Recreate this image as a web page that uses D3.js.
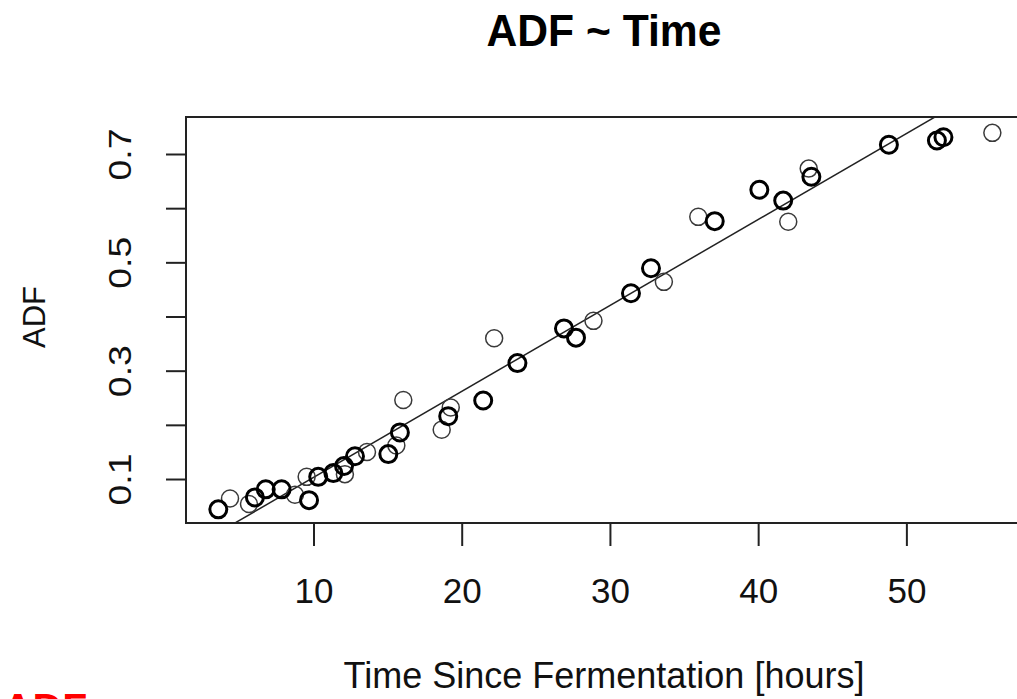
<!DOCTYPE html>
<html>
<head>
<meta charset="utf-8">
<script src="https://cdn.jsdelivr.net/npm/d3@7"></script>
<style>
  html, body { margin: 0; padding: 0; background: #fff; overflow: hidden; }
  text { font-family: 'Liberation Sans', Arial, Helvetica, sans-serif; }
</style>
</head>
<body>
<svg id="chart"></svg>
<script>
const width = 1017;
const height = 699;

// hours since fermentation / ADF
// heavy circles (overplotted) and light circles kept apart
const heavyTime = [3.58, 6.05, 6.78, 7.85, 9.70, 10.32, 11.34, 12.06, 12.80, 15.05, 15.83, 19.09, 21.45,
  23.76, 26.90, 27.71, 31.42, 32.77, 37.07, 40.08, 41.69, 43.59, 48.82, 52.06, 52.50];
const heavyADF = [0.044, 0.066, 0.081, 0.081, 0.061, 0.104, 0.111, 0.124, 0.142, 0.146, 0.186, 0.216, 0.245,
  0.314, 0.378, 0.361, 0.443, 0.489, 0.576, 0.634, 0.614, 0.658, 0.717, 0.725, 0.731];

const lightTime = [4.37, 5.65, 8.75, 9.54, 12.12, 13.61, 15.59, 16.06, 18.65, 19.26, 22.19, 28.89,
  33.64, 35.96, 42.03, 43.41, 55.80];
const lightADF = [0.064, 0.054, 0.071, 0.104, 0.109, 0.150, 0.162, 0.246, 0.191, 0.232, 0.360, 0.392,
  0.464, 0.584, 0.575, 0.673, 0.739];

// lm(ADF ~ Time)
const fitIntercept = -0.0558;
const fitSlope = 0.01587;

const xTicks = [10, 20, 30, 40, 50];
const yTicks = [0.1, 0.2, 0.3, 0.4, 0.5, 0.6, 0.7];
const yTickLabels = ['0.1', '', '0.3', '', '0.5', '', '0.7'];

const plot = { left: 186, right: 1022, top: 117, bottom: 523 };

const svg = d3.select('#chart')
  .attr('width', width)
  .attr('height', height);

svg.append('rect')
  .attr('width', width)
  .attr('height', height)
  .attr('fill', '#fff');

const x = d3.scaleLinear().domain([1.40, 57.80]).range([plot.left, plot.right]);
const y = d3.scaleLinear().domain([0.0188, 0.7683]).range([plot.bottom, plot.top]);

svg.append('defs').append('clipPath')
  .attr('id', 'plotClip')
  .append('rect')
  .attr('x', plot.left)
  .attr('y', plot.top)
  .attr('width', plot.right - plot.left)
  .attr('height', plot.bottom - plot.top);

// fitted line (abline, clipped to the box)
const x0 = x.domain()[0];
const x1 = x.domain()[1];
svg.append('line')
  .attr('clip-path', 'url(#plotClip)')
  .attr('x1', x(x0))
  .attr('y1', y(fitIntercept + fitSlope * x0))
  .attr('x2', x(x1))
  .attr('y2', y(fitIntercept + fitSlope * x1))
  .attr('stroke', '#222')
  .attr('stroke-width', 1.5);

function drawPoints(times, values, stroke, strokeWidth) {
  svg.append('g')
    .selectAll('circle')
    .data(times.map((t, i) => ({ t, v: values[i] })))
    .join('circle')
    .attr('cx', d => x(d.t))
    .attr('cy', d => y(d.v))
    .attr('r', 8.5)
    .attr('fill', 'none')
    .attr('stroke', stroke)
    .attr('stroke-width', strokeWidth);
}

drawPoints(lightTime, lightADF, '#3a3a3a', 1.5);
drawPoints(heavyTime, heavyADF, '#000', 3);

// box
svg.append('rect')
  .attr('x', plot.left)
  .attr('y', plot.top)
  .attr('width', plot.right - plot.left)
  .attr('height', plot.bottom - plot.top)
  .attr('fill', 'none')
  .attr('stroke', '#222')
  .attr('stroke-width', 2);

// x axis
const xAxis = svg.append('g')
  .attr('transform', `translate(0,${plot.bottom})`)
  .call(d3.axisBottom(x).tickValues(xTicks).tickSize(23).tickPadding(0).tickFormat(d3.format('d')));
xAxis.select('.domain')
  .attr('d', `M${x(xTicks[0])},0H${x(xTicks[xTicks.length - 1])}`)
  .attr('stroke', '#222')
  .attr('stroke-width', 2);
xAxis.selectAll('.tick line').attr('stroke', '#222').attr('stroke-width', 2);
xAxis.selectAll('.tick text')
  .attr('y', 80)
  .attr('dy', null)
  .attr('fill', '#111')
  .style('font-size', '35px');

// y axis, labels rotated like base R
const yAxis = svg.append('g')
  .attr('transform', `translate(${plot.left},0)`)
  .call(d3.axisLeft(y).tickValues(yTicks).tickSize(20).tickFormat((d, i) => yTickLabels[i]));
yAxis.select('.domain')
  .attr('d', `M0,${y(yTicks[0])}V${y(yTicks[yTicks.length - 1])}`)
  .attr('stroke', '#222')
  .attr('stroke-width', 2);
yAxis.selectAll('.tick line').attr('stroke', '#222').attr('stroke-width', 2);
yAxis.selectAll('.tick text')
  .attr('x', null)
  .attr('dy', null)
  .attr('text-anchor', 'middle')
  .attr('transform', 'translate(-55,0) rotate(-90)')
  .attr('fill', '#111')
  .style('font-size', '32px')
  .attr('textLength', d => (d * 10) % 2 > 0.5 ? 52 : null)
  .attr('lengthAdjust', 'spacingAndGlyphs');

// titles
svg.append('text')
  .attr('x', 604)
  .attr('y', 46)
  .attr('text-anchor', 'middle')
  .attr('font-weight', 'bold')
  .attr('textLength', 235)
  .attr('lengthAdjust', 'spacingAndGlyphs')
  .style('font-size', '45px')
  .attr('fill', '#000')
  .text('ADF ~ Time');

svg.append('text')
  .attr('x', 604)
  .attr('y', 688)
  .attr('text-anchor', 'middle')
  .style('font-size', '36px')
  .attr('fill', '#111')
  .text('Time Since Fermentation [hours]');

svg.append('text')
  .attr('transform', 'translate(45,317) rotate(-90)')
  .attr('text-anchor', 'middle')
  .style('font-size', '31px')
  .attr('fill', '#111')
  .text('ADF');

// red caption, cut off by the bottom edge
svg.append('text')
  .attr('x', 3)
  .attr('y', 722)
  .attr('font-weight', 'bold')
  .style('font-size', '41px')
  .attr('fill', '#ff0000')
  .text('ADF');
</script>
</body>
</html>
